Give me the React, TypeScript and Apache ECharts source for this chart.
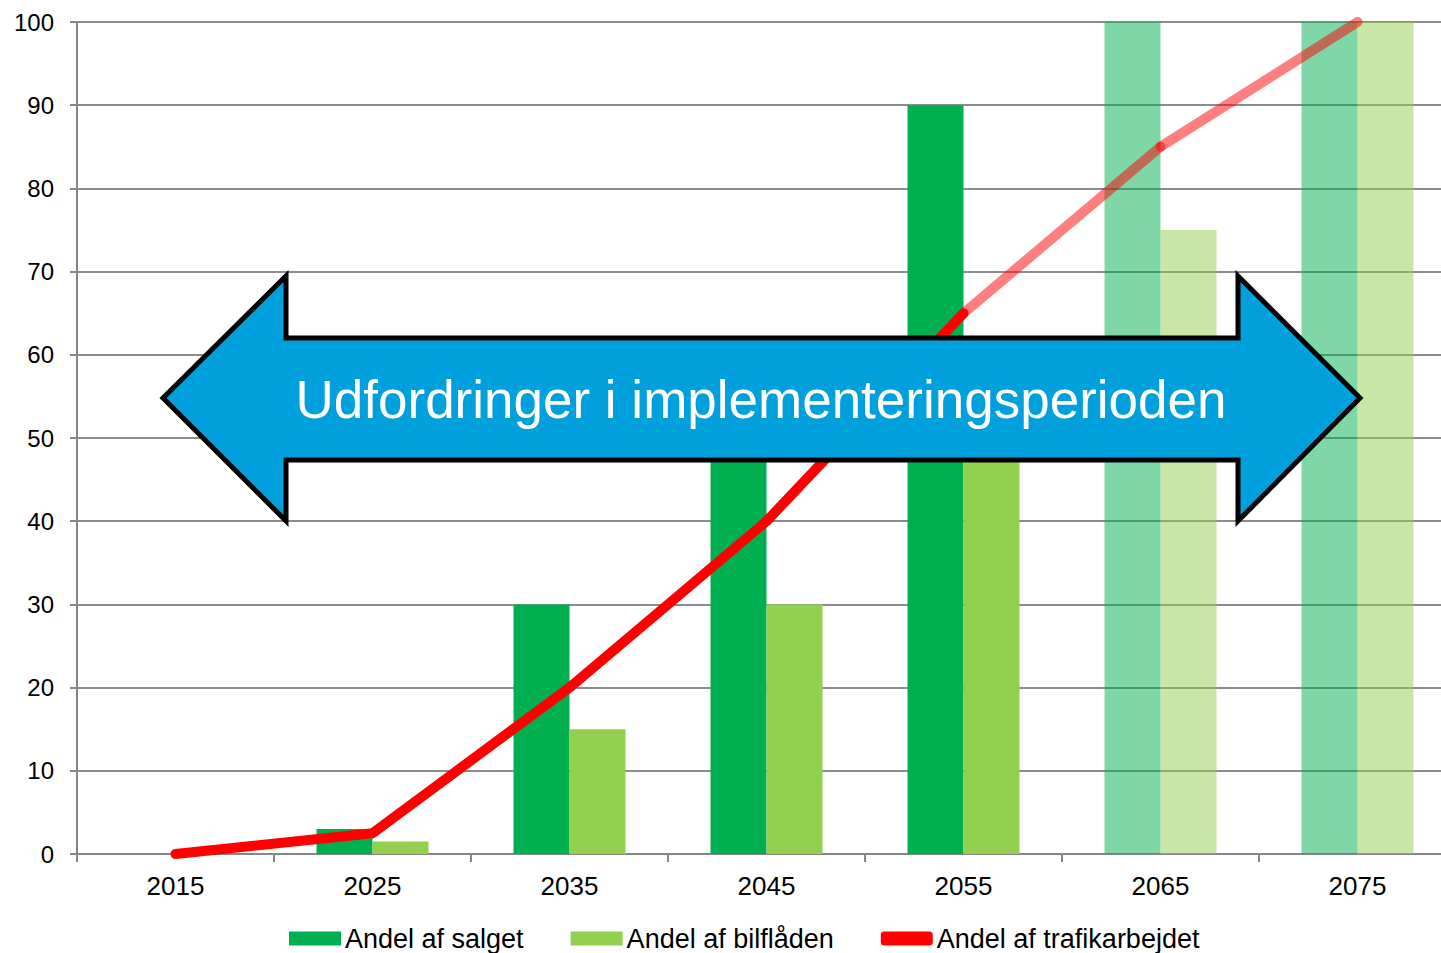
import React, { useEffect, useRef } from "react";
import * as echarts from "echarts";

const years = ["2015", "2025", "2035", "2045", "2055", "2065", "2075"];
const salget = [0, 3, 30, 60, 90, 100, 100];
const bilflaaden = [0, 1.5, 15, 30, 55, 75, 100];
const trafikSolid = [0, 2.5, 20, 40, 65, null, null];
const trafikFaded1 = [null, null, null, null, 65, 85, null];
const trafikFaded2 = [null, null, null, null, null, 85, 100];
const fadedFrom = 5;
const arrowLabel = "Udfordringer i implementeringsperioden";

const FONT = "'Liberation Sans', Arial, sans-serif";

export default function App() {
  const ref = useRef<HTMLDivElement>(null);
  useEffect(() => {
    if (!ref.current) return;
    const chart = echarts.init(ref.current, undefined, { renderer: "svg" });
    const barData = (arr: number[]) =>
      arr.map((v, i) => (i >= fadedFrom ? { value: v, itemStyle: { opacity: 0.5 } } : v));
    const lineStyle = (op: number) => ({ color: "#FF0000", width: 10, cap: "round", join: "round", opacity: op });
    const option: any = {
      animation: false,
      textStyle: { fontFamily: FONT },
      grid: { left: 77, top: 22, right: 0, bottom: 99 },
      legend: {
        left: 289,
        top: 925,
        padding: 0,
        itemWidth: 52,
        itemHeight: 14,
        itemGap: 47,
        textStyle: { fontSize: 27, color: "#000", fontFamily: FONT, padding: [0, 0, 0, -1] },
        data: [
          { name: "Andel af salget", icon: "rect" },
          { name: "Andel af bilflåden", icon: "rect" },
          { name: "Andel af trafikarbejdet", icon: "roundRect", itemStyle: { color: "#FF0000" } },
        ],
      },
      xAxis: {
        type: "category",
        data: years,
        axisLine: { lineStyle: { color: "#868686", width: 2 } },
        axisTick: { show: true, length: 8, lineStyle: { color: "#868686", width: 2 } },
        axisLabel: { color: "#000", fontSize: 26, margin: 19, fontFamily: FONT },
      },
      yAxis: {
        type: "value",
        min: 0,
        max: 100,
        interval: 10,
        axisLine: { show: true, lineStyle: { color: "#868686", width: 2 } },
        axisTick: { show: true, length: 7, lineStyle: { color: "#868686", width: 2 } },
        axisLabel: { color: "#000", fontSize: 24, margin: 23, fontFamily: FONT },
        splitLine: { lineStyle: { color: "#8c8c8c", width: 2 } },
      },
      series: [
        {
          name: "Andel af salget",
          type: "bar",
          data: barData(salget),
          barWidth: 56,
          barGap: "0%",
          itemStyle: { color: "#00B050" },
        },
        {
          name: "Andel af bilflåden",
          type: "bar",
          data: barData(bilflaaden),
          barWidth: 56,
          barGap: "0%",
          itemStyle: { color: "#92D050" },
        },
        {
          name: "Andel af trafikarbejdet",
          type: "line",
          data: trafikSolid,
          symbol: "none",
          lineStyle: lineStyle(1),
          itemStyle: { color: "#FF0000" },
          z: 5,
        },
        {
          name: "f1",
          type: "line",
          data: trafikFaded1,
          symbol: "none",
          lineStyle: lineStyle(0.5),
          z: 4,
        },
        {
          name: "f2",
          type: "line",
          data: trafikFaded2,
          symbol: "none",
          lineStyle: lineStyle(0.5),
          z: 4,
        },
      ],
      graphic: [
        {
          type: "polygon",
          z: 100,
          shape: {
            points: [
              [163, 398],
              [286, 276],
              [286, 338],
              [1238, 338],
              [1238, 276],
              [1360, 398],
              [1238, 521],
              [1238, 460],
              [286, 460],
              [286, 521],
            ],
          },
          style: { fill: "#00A0DD", stroke: "#000", lineWidth: 5, lineJoin: "miter" },
        },
        {
          type: "text",
          z: 101,
          x: 761,
          y: 399,
          style: {
            text: arrowLabel,
            fill: "#fff",
            fontSize: 53,
            fontFamily: FONT,
            align: "center",
            verticalAlign: "middle",
          },
        },
      ],
    };
    chart.setOption(option);
    return () => chart.dispose();
  }, []);
  return (
    <div
      ref={ref}
      style={{ position: "fixed", left: 0, top: 0, width: 1456, height: 953, background: "#fff" }}
    />
  );
}
